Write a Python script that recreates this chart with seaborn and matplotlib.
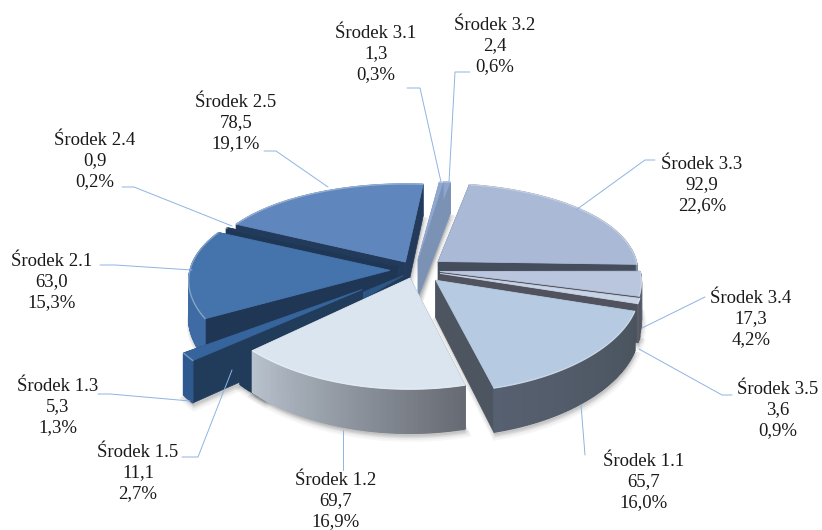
import numpy as np
import matplotlib.pyplot as plt
from matplotlib.patches import Polygon
import seaborn as sns

# ---------------------------
# Data
# ---------------------------
names = ["Środek 3.3", "Środek 3.4", "Środek 3.5", "Środek 1.1", "Środek 1.2", "Środek 1.5",
         "Środek 1.3", "Środek 2.1", "Środek 2.4", "Środek 2.5", "Środek 3.1", "Środek 3.2"]
values = [92.9, 17.3, 3.6, 65.7, 69.7, 11.1, 5.3, 63.0, 0.9, 78.5, 1.3, 2.4]
value_labels = ["92,9", "17,3", "3,6", "65,7", "69,7", "11,1", "5,3", "63,0", "0,9", "78,5", "1,3", "2,4"]
percent_labels = ["22,6%", "4,2%", "0,9%", "16,0%", "16,9%", "2,7%", "1,3%", "15,3%", "0,2%", "19,1%", "0,3%", "0,6%"]

# ---------------------------
# Styling
# ---------------------------
explode = [0.15, 0.125, 0.13, 0.15, 0.09, 0.08, 0.33, 0.125, 0.10, 0.10, 0.12, 0.13]
nudge = [2, 0, 0, 0, 0, -7, -7, 0, 0, 0, 1.5, 1.5]
top_colors = ["#a9b9d6", "#b9c6de", "#c9d4e6", "#b6cae1", "#dbe5f0", "#2c5686",
              "#36659d", "#4573ac", "#1f3d5f", "#5f87bd", "#8fa8d0", "#8ca6cf"]
cut_colors = ["#454c5c", "#50525e", "#50525e", "#4c5560", "#5f6670", "#213b5b",
              "#213b5b", "#1f3754", "#1f3754", "#233a5b", "#7b92b5", "#7b92b5"]
wall_left = ["#7f8ca3", "#5a6070", "#5a5e68", "#566070", "#b8c2cd", "#213b5b",
             "#2f5a90", "#3f6ba5", "#1f3754", "#4f76a5", "#7b92b5", "#7b92b5"]
wall_right = ["#7f8ca3", "#5a6070", "#50525e", "#4a545e", "#666a72", "#213b5b",
              "#2f5a90", "#3f6ba5", "#1f3754", "#4f76a5", "#7b92b5", "#7b92b5"]
draw_order = [11, 10, 9, 0, 8, 1, 2, 7, 5, 6, 3, 4]

label_pos = [(702, 185), (751, 319), (778, 410), (644, 482), (336, 501), (138, 473),
             (58, 407), (52, 282), (95, 161), (236, 123), (376, 54), (495, 46)]
leaders = [[(576, 210), (645, 160), (655, 160)],
           [(642, 328), (705, 297)],
           [(639, 349), (722, 395), (732, 395)],
           [(581, 405), (585, 455)],
           [(343, 430), (343, 470)],
           [(232, 370), (198, 457), (182, 457)],
           [(190, 401), (110, 394), (98, 394)],
           [(192, 270), (115, 265), (100, 265)],
           [(232, 226), (134, 187), (122, 187)],
           [(328, 187), (276, 151), (264, 151)],
           [(441, 182), (420, 88), (407, 88)],
           [(449, 182), (455, 72), (470, 72)]]

cx, cy = 415, 270
rx, ry = 200, 92
persp = 0.149
persp_x = 0.10
depth = 37


def project(u, v, z=0.0):
    s = 1 / (1 + persp * v)
    sx = 1 / (1 + persp_x * v)
    return cx + rx * u * sx, cy - ry * v * s + depth * z * s


# ---------------------------
# Slices
# ---------------------------
sns.set_style("white")
plt.rcParams['font.family'] = ['Liberation Serif', 'DejaVu Serif']
fig, ax = plt.subplots(figsize=(8.22, 5.30), dpi=100)
ax.set_position([0, 0, 1, 1])
ax.set_xlim(0, 822)
ax.set_ylim(530, 0)
ax.axis("off")

shares = np.array(values) / sum(values) * 360
starts = 8.6 + np.concatenate([[0], np.cumsum(shares)[:-1]]) + np.array(nudge)


def slice_geometry(i):
    a0 = np.radians(starts[i])
    a1 = np.radians(starts[i] + shares[i])
    mid = (a0 + a1) / 2
    ox, oy = explode[i] * np.sin(mid), explode[i] * np.cos(mid)
    ang = np.linspace(a0, a1, max(int(shares[i]) * 2, 4))
    return ang, ox, oy


# soft shadow under the pie
for i in draw_order:
    ang, ox, oy = slice_geometry(i)
    pts = [project(ox, oy, 1)] + [project(ox + np.sin(a), oy + np.cos(a), 1) for a in ang]
    for grow in [5, 4, 3, 2, 1]:
        shifted = [(x + grow * 0.3, y + grow) for x, y in pts]
        ax.add_patch(Polygon(shifted, fc="#000000", ec="#000000", lw=grow, alpha=0.03, zorder=1))

z = 2
for i in draw_order:
    ang, ox, oy = slice_geometry(i)
    apex_top = project(ox, oy, 0)
    apex_bot = project(ox, oy, 1)
    top = [project(ox + np.sin(a), oy + np.cos(a), 0) for a in ang]
    bot = [project(ox + np.sin(a), oy + np.cos(a), 1) for a in ang]
    shades = sns.blend_palette([wall_right[i], wall_left[i]], len(ang) - 1)

    # side walls: the back part of the rim goes first, then the cut faces, then the front part
    segs = list(range(len(ang) - 1))
    back = [k for k in segs if np.cos(ang[k]) > 0]
    front = [k for k in segs if np.cos(ang[k]) <= 0]

    def rim(ks):
        global z
        for k in ks:
            quad = [top[k], top[k + 1], bot[k + 1], bot[k]]
            ax.add_patch(Polygon(quad, fc=shades[k], ec=shades[k], lw=0.9, zorder=z))
            z += 1

    rim(back)
    for t, b in [(top[0], bot[0]), (top[-1], bot[-1])]:
        ax.add_patch(Polygon([apex_top, t, b, apex_bot], fc=cut_colors[i], ec=cut_colors[i], lw=0.5, zorder=z))
        z += 1
    rim(front)

    ax.add_patch(Polygon([apex_top] + top, fc=top_colors[i], ec=top_colors[i], lw=0.6, zorder=z))
    z += 1
    # light bevel along the outer edge
    ax.plot([p[0] for p in top], [p[1] for p in top], color="white", lw=1.0, alpha=0.35, zorder=z)
    z += 1

# ---------------------------
# Leader lines and labels
# ---------------------------
for line in leaders:
    ax.plot([p[0] for p in line], [p[1] for p in line], color="#8db4e2", lw=0.7, zorder=z)
z += 1

for i, name in enumerate(names):
    ax.text(label_pos[i][0], label_pos[i][1], f"{name}\n{value_labels[i]}\n{percent_labels[i]}",
            ha="center", va="center", fontsize=13.5, color="#1a1a1a", linespacing=1.3, zorder=z)

plt.savefig("out.png", dpi=100)
